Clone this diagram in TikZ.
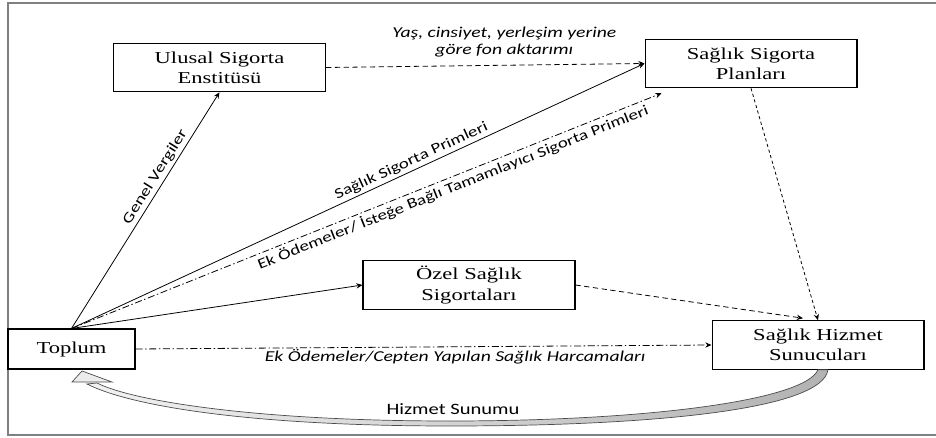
\documentclass[tikz,border=0pt]{standalone}
\usepackage{fontspec}
\newfontfamily\kutufont[FakeStretch=1.35]{Liberation Serif}
\newfontfamily\etiketfont[FakeStretch=1.3]{Carlito}
\usepackage{tikz}
\usetikzlibrary{arrows.meta, calc}

\begin{document}
\begin{tikzpicture}[x=0.02cm, y=-0.02cm,
  kutu/.style={draw, line width=0.6pt, minimum width=4.24cm, minimum height=0.97cm, align=center, inner sep=2pt, font=\kutufont\fontsize{9.5}{11.5}\selectfont},
  ok/.style={-{Stealth[length=3.5pt, width=3pt]}, line width=0.45pt},
  kesikli/.style={ok, dash pattern=on 3pt off 2pt},
  noktali/.style={ok, dash pattern=on 1.8pt off 1.5pt},
  kesiknokta/.style={ok, dash pattern=on 4pt off 1.5pt on 0.8pt off 1.5pt},
  etiket/.style={font=\etiketfont\fontsize{8.3}{9.5}\selectfont, inner sep=1.5pt},
  egik/.style={etiket, align=center, font=\etiketfont\itshape\fontsize{8.6}{9.7}\selectfont}
]
  \useasboundingbox (0,0) rectangle (936,438);
  \draw[gray, line width=1pt] (8,3) rectangle (945,435);

  % Kurumlar
  \node[kutu] (ulusal) at (219.5,67.5) {Ulusal Sigorta\\Enstitüsü};
  \node[kutu] (planlar) at (751,63.5) {Sağlık Sigorta\\Planları};
  \node[kutu] (ozel) at (469,285) {Özel Sağlık\\Sigortaları};
  \node[kutu] (hizmet) at (818,345) {Sağlık Hizmet\\Sunucuları};
  \node[kutu, minimum width=2.54cm, minimum height=0.8cm] (toplum) at (71.5,349) {Toplum};

  \coordinate (planlarAlt) at ($(planlar.south west)+(17,5)$);
  \coordinate (hizmetUst) at ($(hizmet.north)+(-15,-2)$);

  % Toplumdan cikan odemeler
  \draw[ok] (toplum.north) -- node[etiket, pos=0.62, above, sloped] (vergi) {Genel Vergiler} (ulusal.south);
  \draw[ok] (toplum.north) -- node[etiket, pos=0.6, above, sloped] (prim) {Sağlık Sigorta Primleri} (planlar.west);
  \draw[kesiknokta] (toplum.north) -- node[etiket, pos=0.64, below, sloped] (ekprim) {Ek Ödemeler/ İsteğe Bağlı Tamamlayıcı Sigorta Primleri} (planlarAlt);
  \draw[ok] (toplum.north) -- (ozel.west);
  \draw[kesiknokta] (toplum.east) -- node[egik, pos=0.555, below] (cepten) {Ek Ödemeler/Cepten Yapılan Sağlık Harcamaları} (hizmet.west);

  % Fon aktarimi
  \draw[kesikli] (ulusal.east) -- node[egik, pos=0.56, above=3pt] (fon) {Yaş, cinsiyet, yerleşim yerine\\göre fon aktarımı} (planlar.west);
  \draw[noktali] (planlar.south) -- (hizmet.north);
  \draw[kesikli] (ozel.east) -- (hizmetUst);

  % Hizmet sunumu
  \draw[draw=black!70, left color=gray!10, right color=gray!60, line width=0.4pt] (hizmet.south) .. controls (805,400) and (650,421) .. (450,421) .. controls (250,421) and (130,400) .. (97,383) -- (87,384) .. controls (130,406) and (250,426) .. (450,426) .. controls (650,426) and (822,410) .. ($(hizmet.south)+(10,0)$) -- cycle;
  \draw[draw=black!70, fill=gray!15, line width=0.4pt] (72,382) -- (82,371) -- (112,382) -- cycle;
  \node[etiket, font=\etiketfont\fontsize{9}{10}\selectfont] (sunum) at (453,409) {Hizmet Sunumu};
\end{tikzpicture}
\end{document}
